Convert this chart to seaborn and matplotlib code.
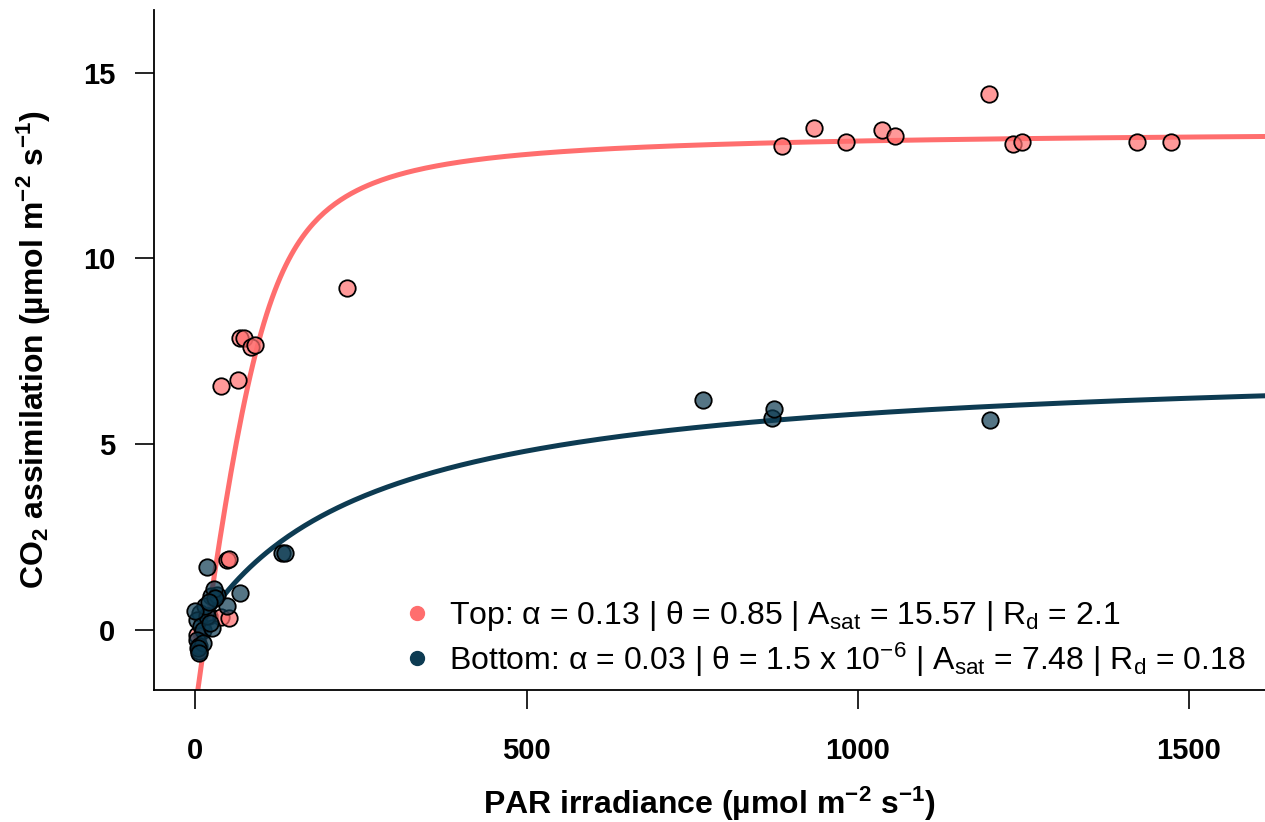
import numpy as np
import pandas as pd
import seaborn as sns
import matplotlib.pyplot as plt
from matplotlib.lines import Line2D

# measured points (PAR, CO2 assimilation)
top_par = [3, 20, 38, 51, 47, 50, 39, 65, 68, 74, 84, 90, 229,
           885, 934, 983, 1036, 1056, 1199, 1234, 1248, 1421, 1473]
top_a = [-0.14, 0.37, 0.34, 0.32, 1.88, 1.9, 6.55, 6.73, 7.86, 7.86, 7.62, 7.68, 9.2,
         13.02, 13.51, 13.13, 13.47, 13.3, 14.42, 13.09, 13.13, 13.13, 13.13]

bot_par = [18, 23, 33, 28, 67, 48, 131, 136, 7, 3, 8, 12, 25, 3, 5, 5,
           18, 15, 22, 0, 12, 30, 20, 4, 6,
           766, 871, 874, 1200]
bot_a = [1.69, 0.9, 0.94, 1.08, 0.99, 0.63, 2.05, 2.07, 0.45, 0.27, 0.09, 0.0, 0.04, -0.27, -0.45, -0.58,
         0.36, 0.63, 0.18, 0.49, -0.36, 0.85, 0.75, -0.5, -0.62,
         6.19, 5.70, 5.94, 5.66]

# fitted light-response parameters (from the legend)
top_fit = dict(alpha=0.13, theta=0.85, asat=15.57, rd=2.1)
bot_fit = dict(alpha=0.03, theta=1.5e-6, asat=7.48, rd=0.18)

pink = "#FF6E6E"
navy = "#0D3B52"


def nrh(par, alpha, theta, asat, rd):
    # non-rectangular hyperbola
    b = alpha * par + asat
    return (b - np.sqrt(b ** 2 - 4 * theta * alpha * par * asat)) / (2 * theta) - rd


par_grid = np.linspace(0, 1650, 400)
curves = pd.concat([
    pd.DataFrame({"PAR": par_grid, "A": nrh(par_grid, **top_fit), "canopy": "Top"}),
    pd.DataFrame({"PAR": par_grid, "A": nrh(par_grid, **bot_fit), "canopy": "Bottom"}),
])
pts = pd.concat([
    pd.DataFrame({"PAR": top_par, "A": top_a, "canopy": "Top"}),
    pd.DataFrame({"PAR": bot_par, "A": bot_a, "canopy": "Bottom"}),
])

sns.set_style("ticks")
plt.rcParams["font.family"] = ["Liberation Sans", "DejaVu Sans"]
plt.rcParams["mathtext.fontset"] = "custom"
plt.rcParams["mathtext.rm"] = "Liberation Sans"
plt.rcParams["mathtext.bf"] = "Liberation Sans:bold"
plt.rcParams["mathtext.default"] = "regular"
for k in ["text.color", "axes.labelcolor", "xtick.color", "ytick.color", "axes.edgecolor"]:
    plt.rcParams[k] = "black"

fig = plt.figure(figsize=(12.65, 8.22), dpi=100)
ax = fig.add_axes([0.122, 0.161, 0.878, 0.827])

pal = {"Top": pink, "Bottom": navy}
sns.lineplot(data=curves, x="PAR", y="A", hue="canopy", palette=pal,
             linewidth=3.6, legend=False, ax=ax, zorder=2)
for name, col in pal.items():
    d = pts[pts["canopy"] == name]
    rgba = list(plt.matplotlib.colors.to_rgba(col))
    rgba[3] = 0.7
    ax.scatter(d["PAR"], d["A"], s=140, facecolor=[rgba], edgecolor="black",
               linewidth=1.3, zorder=3)

ax.set_xlim(-62, 1615)
ax.set_ylim(-1.62, 16.7)
ax.set_xticks([0, 500, 1000, 1500])
ax.set_yticks([0, 5, 10, 15])
sns.despine(ax=ax)
for s in ["left", "bottom"]:
    ax.spines[s].set_linewidth(1.3)
ax.tick_params(length=14, width=1.2, labelsize=21)
ax.tick_params(axis="x", pad=20)
ax.tick_params(axis="y", pad=14)
for lab in ax.get_xticklabels() + ax.get_yticklabels():
    lab.set_fontweight("bold")

ax.set_xlabel(r"PAR irradiance (µmol m$^{-2}$ s$^{-1}$)", fontsize=23,
              fontweight="bold", labelpad=14)
ax.set_ylabel(r"CO$_2$ assimilation (µmol m$^{-2}$ s$^{-1}$)", fontsize=23,
              fontweight="bold", labelpad=22)

handles = [Line2D([], [], marker="o", ls="", color=pink, markersize=10),
           Line2D([], [], marker="o", ls="", color=navy, markersize=10)]
labels = [r"Top: α = 0.13 | θ = 0.85 | A$_{sat}$ = 15.57 | R$_{d}$ = 2.1",
          r"Bottom: α = 0.03 | θ = 1.5 x 10$^{-6}$ | A$_{sat}$ = 7.48 | R$_{d}$ = 0.18"]
ax.legend(handles, labels, loc="lower right", bbox_to_anchor=(1.0, -0.012),
          frameon=False, fontsize=23, handletextpad=0.0, labelspacing=0.22,
          borderaxespad=0.2)

fig.savefig("out.png", dpi=100)
